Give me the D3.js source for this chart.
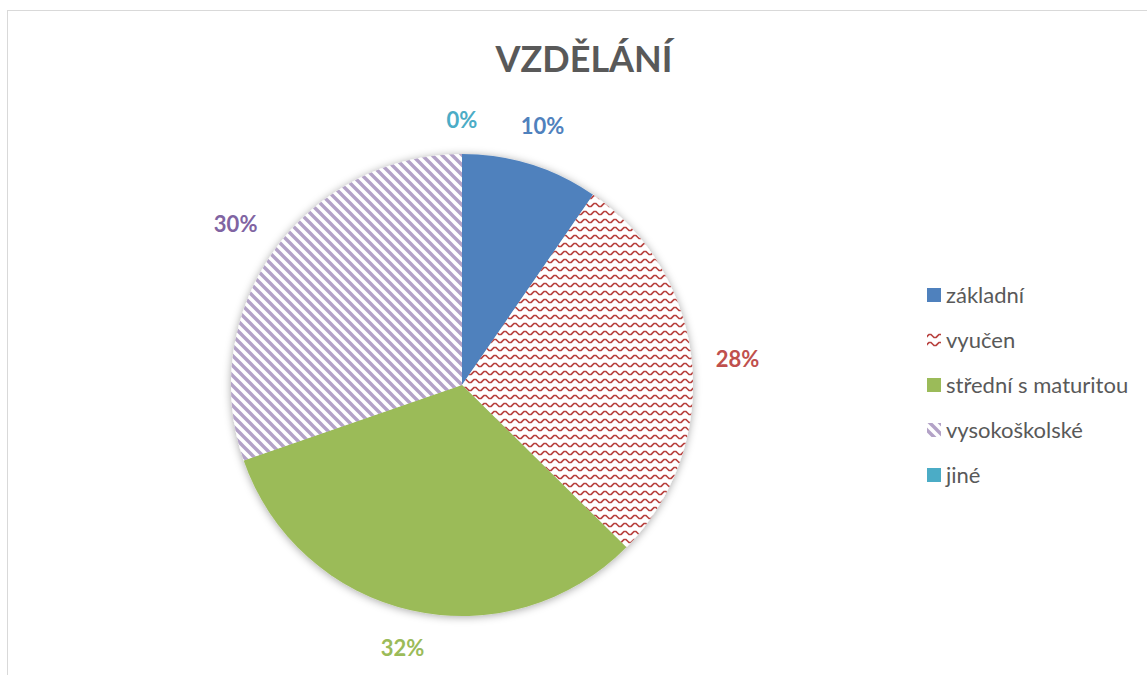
<!DOCTYPE html>
<html>
<head>
<meta charset="utf-8">
<script src="https://cdn.jsdelivr.net/npm/d3@7"></script>
<style>
  body { margin: 0; background: #fff; }
  svg { display: block; font-family: Lato, "Open Sans", sans-serif; }
</style>
</head>
<body>
<div id="chart"></div>
<script>
// data
const categories = ['základní', 'vyučen', 'střední s maturitou', 'vysokoškolské', 'jiné'];
const values = [9.6, 27.8, 32.3, 30.3, 0];
const sliceFills = ['#4F81BD', 'url(#wave)', '#9BBB59', 'url(#diag)', '#4BACC6'];
const labelColors = ['#4F81BD', '#C0504D', '#9BBB59', '#8064A2', '#4BACC6'];
const title = 'VZDĚLÁNÍ';

const width = 1147, height = 675;
const cx = 462, cy = 385, r = 231;

const svg = d3.select('#chart').append('svg')
  .attr('width', width)
  .attr('height', height);

const defs = svg.append('defs');

// wave pattern (vyučen)
const wave = defs.append('pattern')
  .attr('id', 'wave')
  .attr('patternUnits', 'userSpaceOnUse')
  .attr('width', 10).attr('height', 8);
wave.append('rect').attr('width', 10).attr('height', 8).attr('fill', '#fff');
wave.append('path')
  .attr('d', 'M-1,5.5 L2,2.5 L4,2.5 L7,5.5 L9,5.5 L12,2.5')
  .attr('fill', 'none')
  .attr('stroke', '#B8403D')
  .attr('stroke-width', 1.6);

// wide downward diagonal (vysokoškolské)
const diag = defs.append('pattern')
  .attr('id', 'diag')
  .attr('patternUnits', 'userSpaceOnUse')
  .attr('width', 10).attr('height', 10);
diag.append('rect').attr('width', 10).attr('height', 10).attr('fill', '#fff');
diag.append('path')
  .attr('d', 'M-2,-2 L12,12 M-2,8 L2,12 M8,-2 L12,2')
  .attr('stroke', '#B3A2C7')
  .attr('stroke-width', 3.4);

const shadow = defs.append('filter')
  .attr('id', 'shadow')
  .attr('x', '-20%').attr('y', '-20%')
  .attr('width', '140%').attr('height', '140%');
shadow.append('feDropShadow')
  .attr('dx', 0).attr('dy', 1)
  .attr('stdDeviation', 4)
  .attr('flood-color', '#000')
  .attr('flood-opacity', 0.35);

// chart border
svg.append('rect')
  .attr('x', 7.5).attr('y', 10.5)
  .attr('width', 1300).attr('height', 800)
  .attr('fill', 'none')
  .attr('stroke', '#D9D9D9')
  .attr('stroke-width', 1);

// title
svg.append('text')
  .attr('x', 584).attr('y', 72)
  .attr('text-anchor', 'middle')
  .attr('font-size', 36)
  .attr('font-weight', 700)
  .attr('fill', '#595959')
  .text(title);

const total = d3.sum(values);
const pie = d3.pie().sort(null).value(d => d.value);
const arcs = pie(categories.map((c, i) => ({ name: c, value: values[i], i })));
const arc = d3.arc().innerRadius(0).outerRadius(r);

const g = svg.append('g').attr('transform', `translate(${cx},${cy})`);

g.append('g')
  .attr('filter', 'url(#shadow)')
  .selectAll('path')
  .data(arcs.filter(d => d.value > 0))
  .enter().append('path')
  .attr('d', arc)
  .attr('fill', d => sliceFills[d.data.i]);

// data labels, outside end
const labelFont = 22;
g.selectAll('text.lbl')
  .data(arcs)
  .enter().append('text')
  .attr('class', 'lbl')
  .attr('font-size', labelFont)
  .attr('font-weight', 700)
  .attr('text-anchor', 'middle')
  .attr('fill', d => labelColors[d.data.i])
  .each(function (d) {
    const a = (d.startAngle + d.endAngle) / 2;
    const txt = Math.round(d.value / total * 100) + '%';
    const hw = txt.length * 7, hh = 10;
    const dist = r + 24 + hw * Math.abs(Math.sin(a)) + hh * Math.abs(Math.cos(a));
    d3.select(this)
      .attr('x', dist * Math.sin(a))
      .attr('y', -dist * Math.cos(a))
      .attr('dy', '0.36em')
      .text(txt);
  });

// legend
const legendY = d3.scalePoint().domain(categories).range([295, 475]);
const legend = svg.append('g');
const items = legend.selectAll('g')
  .data(categories)
  .enter().append('g')
  .attr('transform', d => `translate(927,${legendY(d)})`);
items.append('rect')
  .attr('x', 0).attr('y', -7)
  .attr('width', 14).attr('height', 14)
  .attr('fill', (d, i) => sliceFills[i]);
items.append('text')
  .attr('x', 19).attr('dy', '0.36em')
  .attr('font-size', 22)
  .attr('fill', '#595959')
  .text(d => d);
</script>
</body>
</html>
